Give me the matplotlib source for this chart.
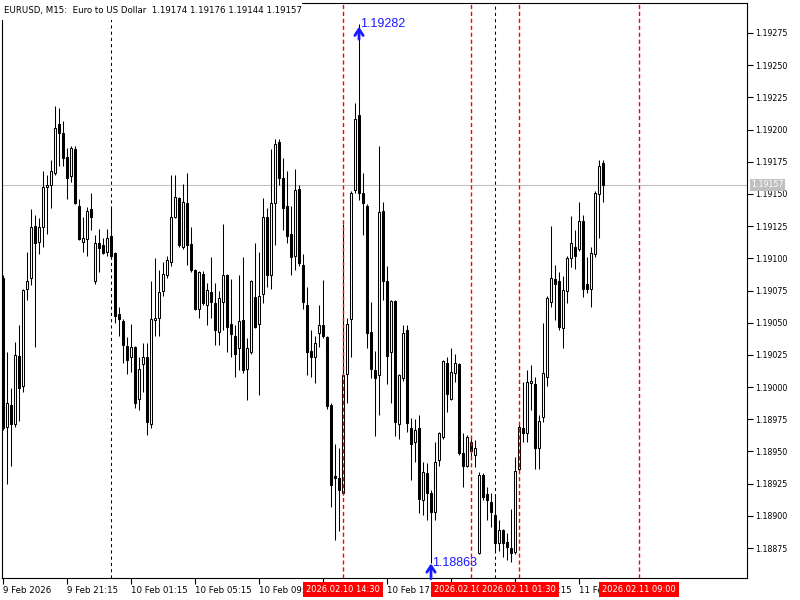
import numpy as np
import pandas as pd
import matplotlib
matplotlib.use('Agg')
import matplotlib.pyplot as plt
from matplotlib.patches import Rectangle

plt.rcParams['font.family'] = ['DejaVu Sans']

title = "EURUSD, M15:  Euro to US Dollar  1.19174 1.19176 1.19144 1.19157"
first_bar = "2026-02-09 17:15"
bar_step = "15min"

opens = [1.19085, 1.18969, 1.18986, 1.18971, 1.19024, 1.19001, 1.19076, 1.19085, 1.19125, 1.19113,
         1.19124, 1.19155, 1.19157, 1.19166, 1.19204, 1.19197, 1.19179, 1.19164, 1.19185, 1.19141,
         1.19113, 1.19115, 1.19138, 1.19082, 1.19112, 1.19110, 1.19105, 1.19117, 1.19104, 1.19057,
         1.19051, 1.19032, 1.19023, 1.19031, 1.18991, 1.19018, 1.19023, 1.18971, 1.19052, 1.19054,
         1.19075, 1.19087, 1.19097, 1.19132, 1.19147, 1.19109, 1.19143, 1.19111, 1.19091, 1.19061,
         1.19088, 1.19064, 1.19074, 1.19065, 1.19043, 1.19066, 1.19087, 1.19049, 1.19040, 1.19030,
         1.19052, 1.19014, 1.19027, 1.19070, 1.19049, 1.19072, 1.19132, 1.19087, 1.19143, 1.19190,
         1.19162, 1.19141, 1.19119, 1.19102, 1.19154, 1.19095, 1.19064, 1.19028, 1.19023, 1.19042,
         1.19048, 1.19039, 1.18986, 1.18931, 1.18929, 1.18918, 1.19010, 1.19053, 1.19153, 1.19211,
         1.19151, 1.19141, 1.19043, 1.19013, 1.19009, 1.19137, 1.19082, 1.19027, 1.19067, 1.18971,
         1.19007, 1.19044, 1.18968, 1.18957, 1.18968, 1.18912, 1.18933, 1.18918, 1.18903, 1.18943,
         1.18961, 1.19019, 1.18991, 1.19011, 1.19018, 1.18949, 1.18939, 1.18957, 1.18947, 1.18871,
         1.18932, 1.18917, 1.18911, 1.18901, 1.18879, 1.18889, 1.18880, 1.18875, 1.18872, 1.18936,
         1.18968, 1.18964, 1.19003, 1.19002, 1.18953, 1.18977, 1.19008, 1.19066, 1.19084, 1.19082,
         1.19046, 1.19075, 1.19100, 1.19109, 1.19107, 1.19129, 1.19080, 1.19076, 1.19103, 1.19150,
         1.19174]
highs = [1.19087, 1.19027, 1.18999, 1.19035, 1.19048, 1.19076, 1.19105, 1.19138, 1.19134, 1.19131,
         1.19168, 1.19165, 1.19176, 1.19218, 1.19217, 1.19207, 1.19186, 1.19187, 1.19187, 1.19146,
         1.19132, 1.19140, 1.19151, 1.19118, 1.19123, 1.19116, 1.19123, 1.19141, 1.19105, 1.19062,
         1.19053, 1.19039, 1.19049, 1.19032, 1.19023, 1.19034, 1.19034, 1.19082, 1.19100, 1.19091,
         1.19097, 1.19102, 1.19165, 1.19165, 1.19148, 1.19158, 1.19166, 1.19124, 1.19092, 1.19090,
         1.19090, 1.19081, 1.19101, 1.19081, 1.19075, 1.19127, 1.19088, 1.19084, 1.19048, 1.19087,
         1.19101, 1.19038, 1.19083, 1.19112, 1.19105, 1.19147, 1.19139, 1.19185, 1.19193, 1.19193,
         1.19178, 1.19168, 1.19141, 1.19169, 1.19157, 1.19103, 1.19078, 1.19044, 1.19040, 1.19064,
         1.19083, 1.19040, 1.18988, 1.18956, 1.18953, 1.19127, 1.19054, 1.19152, 1.19221, 1.19282,
         1.19166, 1.19142, 1.19066, 1.19028, 1.19187, 1.19144, 1.19094, 1.19068, 1.19068, 1.19010,
         1.19048, 1.19048, 1.18976, 1.18975, 1.18978, 1.18942, 1.18941, 1.18920, 1.18957, 1.18965,
         1.19021, 1.19023, 1.19030, 1.19026, 1.19019, 1.18964, 1.18963, 1.18961, 1.18959, 1.18934,
         1.18933, 1.18922, 1.18918, 1.18917, 1.18897, 1.18890, 1.18887, 1.18905, 1.18946, 1.18971,
         1.19004, 1.19013, 1.19017, 1.19008, 1.18978, 1.19050, 1.19071, 1.19125, 1.19095, 1.19089,
         1.19086, 1.19102, 1.19133, 1.19122, 1.19144, 1.19134, 1.19101, 1.19109, 1.19152, 1.19176,
         1.19176]
lows = [1.18967, 1.18925, 1.18939, 1.18969, 1.18974, 1.18996, 1.19068, 1.19079, 1.19031, 1.19103,
        1.19109, 1.19119, 1.19139, 1.19165, 1.19172, 1.19172, 1.19146, 1.19159, 1.19142, 1.19114,
        1.19105, 1.19102, 1.19122, 1.19080, 1.19089, 1.19103, 1.19102, 1.19100, 1.19050, 1.19040,
        1.19019, 1.19010, 1.19012, 1.18984, 1.18982, 1.18996, 1.18963, 1.18968, 1.19040, 1.19040,
        1.19071, 1.19085, 1.19094, 1.19131, 1.19109, 1.19107, 1.19095, 1.19089, 1.19060, 1.19054,
        1.19064, 1.19048, 1.19054, 1.19033, 1.19033, 1.19044, 1.19027, 1.19023, 1.19008, 1.19013,
        1.19011, 1.18990, 1.19026, 1.19046, 1.18994, 1.19065, 1.19078, 1.19076, 1.19110, 1.19157,
        1.19122, 1.19112, 1.19087, 1.19091, 1.19094, 1.19061, 1.19009, 1.19008, 1.19003, 1.19031,
        1.19038, 1.18983, 1.18907, 1.18881, 1.18888, 1.18916, 1.18988, 1.19023, 1.19151, 1.19145,
        1.19118, 1.19030, 1.19007, 1.18962, 1.18978, 1.19068, 1.19002, 1.18988, 1.18962, 1.18960,
        1.19005, 1.18965, 1.18928, 1.18942, 1.18902, 1.18901, 1.18897, 1.18863, 1.18897, 1.18939,
        1.18960, 1.18981, 1.18990, 1.19004, 1.18947, 1.18922, 1.18938, 1.18945, 1.18938, 1.18870,
        1.18912, 1.18897, 1.18891, 1.18873, 1.18873, 1.18868, 1.18866, 1.18864, 1.18870, 1.18934,
        1.18957, 1.18957, 1.18982, 1.18936, 1.18936, 1.18973, 1.19001, 1.19062, 1.19052, 1.19044,
        1.19030, 1.19065, 1.19093, 1.19092, 1.19106, 1.19070, 1.19073, 1.19062, 1.19101, 1.19116,
        1.19144]
closes = [1.18968, 1.18988, 1.18971, 1.19025, 1.18999, 1.19075, 1.19082, 1.19124, 1.19112, 1.19124,
          1.19155, 1.19157, 1.19168, 1.19201, 1.19197, 1.19178, 1.19162, 1.19186, 1.19143, 1.19115,
          1.19116, 1.19137, 1.19132, 1.19112, 1.19108, 1.19104, 1.19116, 1.19102, 1.19055, 1.19053,
          1.19033, 1.19021, 1.19031, 1.18988, 1.19014, 1.19023, 1.18973, 1.19053, 1.19054, 1.19074,
          1.19088, 1.19099, 1.19132, 1.19148, 1.19110, 1.19144, 1.19110, 1.19091, 1.19061, 1.19089,
          1.19065, 1.19075, 1.19066, 1.19044, 1.19069, 1.19087, 1.19047, 1.19041, 1.19026, 1.19051,
          1.19013, 1.19030, 1.19082, 1.19047, 1.19071, 1.19132, 1.19087, 1.19143, 1.19189, 1.19162,
          1.19139, 1.19117, 1.19101, 1.19153, 1.19096, 1.19066, 1.19027, 1.19023, 1.19034, 1.19048,
          1.19040, 1.18985, 1.18924, 1.18929, 1.18920, 1.19009, 1.19049, 1.19151, 1.19208, 1.19151,
          1.19143, 1.19042, 1.19014, 1.19007, 1.19136, 1.19082, 1.19024, 1.19067, 1.18973, 1.19009,
          1.19042, 1.18972, 1.18956, 1.18967, 1.18913, 1.18934, 1.18918, 1.18903, 1.18942, 1.18964,
          1.19020, 1.18995, 1.19012, 1.19019, 1.18949, 1.18939, 1.18961, 1.18950, 1.18953, 1.18932,
          1.18915, 1.18912, 1.18903, 1.18879, 1.18889, 1.18879, 1.18876, 1.18871, 1.18935, 1.18969,
          1.18964, 1.19004, 1.19005, 1.18953, 1.18974, 1.19011, 1.19069, 1.19085, 1.19080, 1.19047,
          1.19075, 1.19100, 1.19112, 1.19102, 1.19129, 1.19076, 1.19076, 1.19104, 1.19151, 1.19172,
          1.19157]

bid = 1.19157
price_ticks = [1.18875, 1.18900, 1.18925, 1.18950, 1.18975, 1.19000, 1.19025, 1.19050, 1.19075,
               1.19100, 1.19125, 1.19150, 1.19175, 1.19200, 1.19225, 1.19250, 1.19275]
time_ticks = ["2026-02-09 17:15", "2026-02-09 21:15", "2026-02-10 01:15", "2026-02-10 05:15",
              "2026-02-10 09:15", "2026-02-10 13:15", "2026-02-10 17:15", "2026-02-10 21:15",
              "2026-02-11 01:15", "2026-02-11 05:15"]
time_labels = ["9 Feb 2026", "9 Feb 21:15", "10 Feb 01:15", "10 Feb 05:15", "10 Feb 09:15",
               "10 Feb 13:15", "10 Feb 17:15", "10 Feb 21:15", "11 Feb 01:15", "11 Feb 05:15"]
day_separators = ["2026-02-10 00:00", "2026-02-11 00:00"]
red_lines = ["2026.02.10 14:30", "2026.02.10 22:30", "2026.02.11 01:30", "2026.02.11 09:00"]

blue = '#1a1aff'
start = pd.Timestamp(first_bar)
step = pd.Timedelta(bar_step)


def bar_pos(t):
    return (pd.Timestamp(t) - start) / step


o = np.array(opens)
h = np.array(highs)
l = np.array(lows)
c = np.array(closes)
x = np.arange(len(o))

fig = plt.figure(figsize=(8, 6), dpi=100)
ax = fig.add_axes([2 / 800, 22 / 600, 745 / 800, 575 / 600])
ax.set_xlim(-0.25, 186)
ax.set_ylim(1.188517, 1.192983)

# bid line and day separators
ax.axhline(bid, color='#c0c0c0', lw=0.8, zorder=1)
for t in day_separators:
    ax.axvline(bar_pos(t), color='black', lw=0.75, ls=(0, (3, 3)), zorder=1)

# candles
up = c >= o
ax.vlines(x, l, h, color='black', lw=0.75, zorder=2)
body_lo = np.minimum(o, c)
body_h = np.maximum(np.abs(c - o), 0.000012)
ax.bar(x, body_h, bottom=body_lo, width=0.55, color=np.where(up, 'white', 'black'),
       edgecolor='black', lw=0.75, zorder=3)

for k, t in enumerate(red_lines):
    pos = bar_pos(pd.to_datetime(t, format='%Y.%m.%d %H:%M'))
    ax.axvline(pos, color='#ff0000', lw=1.0, ls=(0, (3, 2)), zorder=4)
    ax.annotate(t, xy=(pos, 0), xycoords=('data', 'axes fraction'), xytext=(0, -8),
                textcoords='offset points', ha='center', va='center', color='white',
                fontsize=6, annotation_clip=False, zorder=10 + k,
                bbox=dict(boxstyle='square,pad=0.35', fc='#ff0000', ec='none'))

# high / low marks
hi = int(np.argmax(h))
lo = int(np.argmin(l))
for idx, val, shrink in [(hi, h[hi], 2), (lo, l[lo], 0)]:
    ax.annotate('', xy=(idx, val), xytext=(0, -11), textcoords='offset points',
                annotation_clip=False, zorder=8,
                arrowprops=dict(arrowstyle='->,head_length=0.45,head_width=0.3', color=blue,
                                lw=2, shrinkA=0, shrinkB=shrink))
    ax.annotate(f'{val:.5f}', xy=(idx, val), xytext=(1, 0), textcoords='offset points',
                ha='left', va='center', color=blue, fontsize=9, family='Liberation Sans',
                annotation_clip=False, zorder=8)

# axes
ax.yaxis.tick_right()
ax.set_yticks(price_ticks)
ax.set_yticklabels([f'{p:.5f}' for p in price_ticks])
ax.set_xticks([bar_pos(t) for t in time_ticks])
ax.set_xticklabels(time_labels, ha='left')
ax.tick_params(axis='y', direction='out', length=4, width=0.8, labelsize=5.7, pad=2)
ax.tick_params(axis='x', direction='out', length=4, width=0.8, labelsize=6.2, pad=2)
for s in ax.spines.values():
    s.set_color('black')
    s.set_linewidth(0.8)

ax.annotate(f'{bid:.5f}', xy=(1, bid), xycoords=('axes fraction', 'data'), xytext=(3, 0),
            textcoords='offset points', ha='left', va='center', color='white', fontsize=5.7,
            annotation_clip=False, zorder=10,
            bbox=dict(boxstyle='square,pad=0.2', fc='#c0c0c0', ec='none'))

# header
fig.add_artist(Rectangle((0, 580 / 600), 302 / 800, 20 / 600, transform=fig.transFigure,
                         fc='white', ec='none', zorder=5))
fig.text(4 / 800, 1 - 10 / 600, title, ha='left', va='center', fontsize=6.2, zorder=6)

fig.savefig('out.png', dpi=100)
